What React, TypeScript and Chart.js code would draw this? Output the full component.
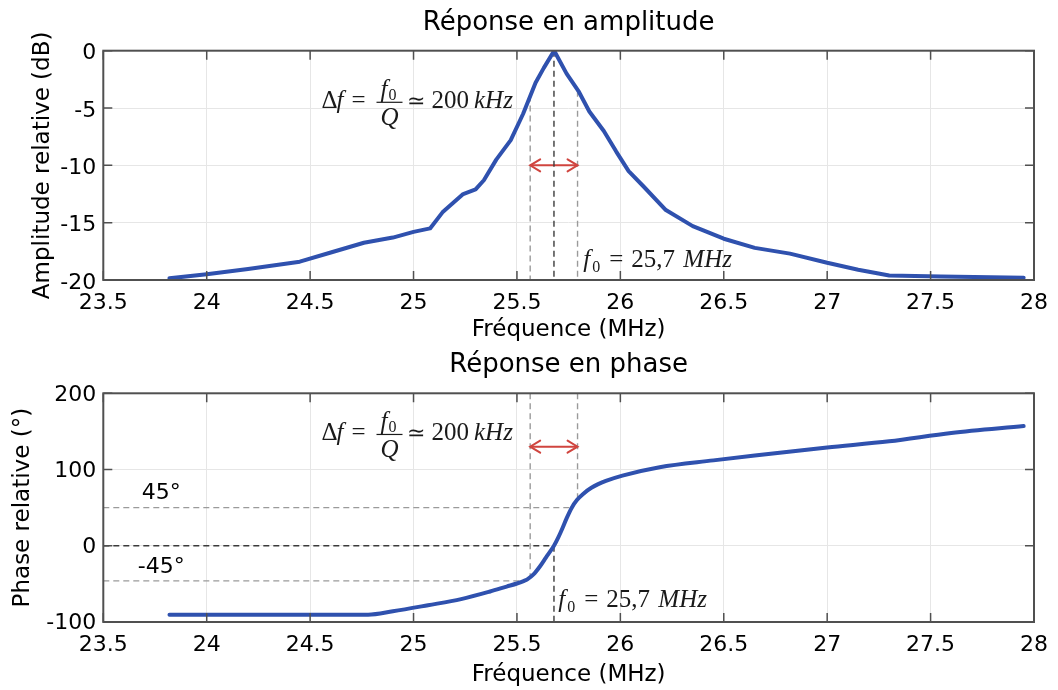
import React, { useEffect, useRef } from "react";
import { Chart, registerables } from "chart.js";

Chart.register(...registerables);

// ---------- data ----------
const freqAmp = [23.82, 24.0, 24.2, 24.45, 24.6, 24.76, 24.9, 25.0, 25.08, 25.14, 25.24, 25.3, 25.34, 25.4, 25.47, 25.53, 25.59, 25.63, 25.68, 25.74, 25.8, 25.85, 25.92, 25.98, 26.04, 26.11, 26.22, 26.35, 26.5, 26.65, 26.82, 27.0, 27.15, 27.3, 27.55, 27.95];
const ampDb = [-19.85, -19.5, -19.05, -18.4, -17.6, -16.75, -16.3, -15.8, -15.5, -14.1, -12.5, -12.1, -11.3, -9.5, -7.8, -5.5, -2.8, -1.5, 0, -2.0, -3.6, -5.3, -7.0, -8.8, -10.5, -11.8, -13.9, -15.3, -16.4, -17.2, -17.7, -18.5, -19.1, -19.6, -19.7, -19.8];

const freqPhase = [23.82, 24.3, 24.78, 24.9, 25.07, 25.23, 25.37, 25.45, 25.5, 25.535, 25.55, 25.58, 25.61, 25.64, 25.679, 25.7, 25.72, 25.74, 25.765, 25.79, 25.82, 25.86, 25.93, 26.01, 26.19, 26.45, 26.65, 27.0, 27.3, 27.6, 27.95];
const phaseDeg = [-90.5, -90.5, -90.5, -86, -78, -70, -60, -53.5, -49.5, -46, -44, -37.5, -27.5, -15.5, 0, 11, 23, 36, 50, 60, 68, 76, 85, 92, 103, 112, 118.5, 129, 137, 148, 157];

const xTickValues = [23.5, 24, 24.5, 25, 25.5, 26, 26.5, 27, 27.5, 28];
const ampTickValues = [-20, -15, -10, -5, 0];
const phaseTickValues = [-100, 0, 100, 200];

// markers (MHz / dB / degrees)
const fLow = 25.564;
const f0 = 25.679;
const fHigh = 25.793;
const ampAtLow = -3.9;
const ampAtHigh = -3.5;
const ampArrowLevel = -10;
const phaseAtLow = -41;
const phaseAtHigh = 61;
const phaseArrowLevel = 130;
const phasePlus45 = 50;
const phaseMinus45 = -46;
const phasePlus45End = 25.765;
const phaseMinus45End = 25.535;

// text anchors (data coordinates)
const ampDfAnchor = { x: 24.555, y: -4.5 };
const ampF0Anchor = { x: 25.821, y: -18.84 };
const phaseDfAnchor = { x: 24.555, y: 146 };
const phaseF0Anchor = { x: 25.7, y: -80.8 };
const plus45Anchor = { x: 23.78, y: 71.4 };
const minus45Anchor = { x: 23.78, y: -25.9 };

// ---------- styles ----------
const SANS = '"DejaVu Sans", sans-serif';
const SERIF = '"Liberation Serif", "Times New Roman", serif';
const CURVE = "#2f51ae";
const LIGHT_DASH = "#9a9a9a";
const DARK_DASH = "#3a3a3a";
const ARROW = "#d0453f";

function pairs(xs: number[], ys: number[]) {
  return xs.map((x, i) => ({ x, y: ys[i] }));
}

function seg(x1: number, y1: number, x2: number, y2: number, color: string, dash: number[]) {
  return {
    data: [{ x: x1, y: y1 }, { x: x2, y: y2 }],
    borderColor: color,
    borderWidth: 1.4,
    borderDash: dash,
    pointRadius: 0,
    tension: 0,
    order: 2,
  };
}

const framePlugin = {
  id: "matlabFrame",
  afterDraw(chart: any) {
    const { ctx, chartArea: a } = chart;
    const xs = chart.scales.x;
    const ys = chart.scales.y;
    ctx.save();
    ctx.strokeStyle = "#505050";
    ctx.lineWidth = 1.5;
    ctx.beginPath();
    for (const t of xs.ticks) {
      const px = xs.getPixelForValue(t.value);
      ctx.moveTo(px, a.bottom);
      ctx.lineTo(px, a.bottom - 9);
      ctx.moveTo(px, a.top);
      ctx.lineTo(px, a.top + 9);
    }
    for (const t of ys.ticks) {
      const py = ys.getPixelForValue(t.value);
      ctx.moveTo(a.left, py);
      ctx.lineTo(a.left + 9, py);
      ctx.moveTo(a.right, py);
      ctx.lineTo(a.right - 9, py);
    }
    ctx.stroke();
    ctx.lineWidth = 2;
    ctx.strokeRect(a.left, a.top, a.right - a.left, a.bottom - a.top);
    ctx.restore();
  },
};

function put(ctx: any, s: string, x: number, y: number, font: string, align: string = "left") {
  ctx.font = font;
  ctx.textAlign = align;
  ctx.textBaseline = "alphabetic";
  ctx.fillText(s, x, y);
  return ctx.measureText(s).width;
}

function drawDeltaF(ctx: any, x0: number, yBar: number) {
  const base = yBar + 6;
  const n = `25px ${SERIF}`;
  const it = `italic 25px ${SERIF}`;
  ctx.fillStyle = "#1a1a1a";
  put(ctx, "Δ", x0, base, n);
  put(ctx, "f", x0 + 15, base, it);
  put(ctx, "=", x0 + 30, base, n);
  put(ctx, "f", x0 + 59, yBar - 5, it);
  put(ctx, "0", x0 + 67, yBar - 2, `16px ${SERIF}`);
  ctx.strokeStyle = "#1a1a1a";
  ctx.lineWidth = 1.2;
  ctx.beginPath();
  ctx.moveTo(x0 + 55, yBar);
  ctx.lineTo(x0 + 81, yBar);
  ctx.stroke();
  put(ctx, "Q", x0 + 68, yBar + 23, it, "center");
  let cx = x0 + 86;
  cx += put(ctx, "≃", cx, base, `22px ${SERIF}`) + 6;
  cx += put(ctx, "200", cx, base, n) + 5;
  put(ctx, "kHz", cx, base, it);
}

function drawF0(ctx: any, x0: number, base: number) {
  const n = `25px ${SERIF}`;
  ctx.fillStyle = "#1a1a1a";
  put(ctx, "f", x0, base, `italic 25px ${SERIF}`);
  put(ctx, "0", x0 + 9, base + 5, `16px ${SERIF}`);
  put(ctx, "=", x0 + 26, base, n);
  put(ctx, "25,7", x0 + 48, base, n);
  put(ctx, "MHz", x0 + 100, base, `italic 25px ${SERIF}`);
}

function drawArrow(ctx: any, chart: any, index: number) {
  const meta = chart.getDatasetMeta(index);
  const p0 = meta.data[0];
  const p1 = meta.data[1];
  if (!p0 || !p1) return;
  ctx.save();
  ctx.strokeStyle = ARROW;
  ctx.lineWidth = 2;
  ctx.lineCap = "round";
  ctx.beginPath();
  ctx.moveTo(p0.x + 10, p0.y - 6);
  ctx.lineTo(p0.x, p0.y);
  ctx.lineTo(p0.x + 10, p0.y + 6);
  ctx.moveTo(p1.x - 10, p1.y - 6);
  ctx.lineTo(p1.x, p1.y);
  ctx.lineTo(p1.x - 10, p1.y + 6);
  ctx.stroke();
  ctx.restore();
}

function makeOptions(p: any) {
  const tickFont = { family: SANS, size: 22 };
  return {
    responsive: false,
    maintainAspectRatio: false,
    animation: false,
    events: [],
    layout: { padding: { left: 0, right: 17, top: 0, bottom: 0 } },
    plugins: {
      legend: { display: false },
      tooltip: { enabled: false },
      title: {
        display: true,
        text: p.title,
        fullSize: false,
        color: "#000",
        font: { family: SANS, size: 26, weight: "normal", lineHeight: 1.2 },
        padding: p.titlePad,
      },
    },
    scales: {
      x: {
        type: "linear",
        min: 23.5,
        max: 28,
        afterBuildTicks: (s: any) => {
          s.ticks = xTickValues.map((v) => ({ value: v }));
        },
        afterFit: (s: any) => {
          s.height = p.xAxisHeight;
        },
        grid: { color: "#e6e6e6", lineWidth: 1, drawTicks: false },
        border: { display: false },
        ticks: {
          color: "#000",
          font: tickFont,
          padding: 10,
          maxRotation: 0,
          autoSkip: false,
          callback: (v: any) => String(v),
        },
        title: {
          display: true,
          text: "Fréquence (MHz)",
          color: "#000",
          font: { family: SANS, size: 23, lineHeight: 1.2 },
          padding: { top: 0, bottom: 0.7 },
        },
      },
      y: {
        type: "linear",
        min: p.yMin,
        max: p.yMax,
        afterBuildTicks: (s: any) => {
          s.ticks = p.yTicks.map((v: number) => ({ value: v }));
        },
        afterFit: (s: any) => {
          s.width = 103.3;
        },
        grid: { color: "#e6e6e6", lineWidth: 1, drawTicks: false },
        border: { display: false },
        ticks: {
          color: "#000",
          font: tickFont,
          padding: 7,
          labelOffset: p.yLabelOffset,
          autoSkip: false,
          callback: (v: any) => String(v),
        },
        title: {
          display: true,
          text: p.yTitle,
          color: "#000",
          font: { family: SANS, size: 23, lineHeight: 1.2 },
          padding: { top: p.yTitlePad, bottom: 0 },
        },
      },
    },
  };
}

function curveDataset(xs: number[], ys: number[], smooth: boolean) {
  return {
    data: pairs(xs, ys),
    borderColor: CURVE,
    borderWidth: 4,
    pointRadius: 0,
    tension: smooth ? 0.4 : 0,
    cubicInterpolationMode: smooth ? "monotone" : "default",
    borderJoinStyle: "round",
    borderCapStyle: "round",
    order: 0,
  };
}

export default function App() {
  const topRef = useRef<HTMLCanvasElement | null>(null);
  const botRef = useRef<HTMLCanvasElement | null>(null);

  useEffect(() => {
    if (!topRef.current || !botRef.current) return;

    const ampArrowIdx = 4;
    const ampNotes = {
      id: "ampNotes",
      afterDatasetsDraw(chart: any) {
        const { ctx } = chart;
        const xs = chart.scales.x;
        const ys = chart.scales.y;
        drawArrow(ctx, chart, ampArrowIdx);
        ctx.save();
        drawDeltaF(ctx, xs.getPixelForValue(ampDfAnchor.x), ys.getPixelForValue(ampDfAnchor.y));
        drawF0(ctx, xs.getPixelForValue(ampF0Anchor.x), ys.getPixelForValue(ampF0Anchor.y));
        ctx.restore();
      },
    };

    const top = new Chart(topRef.current, {
      type: "line",
      data: {
        datasets: [
          curveDataset(freqAmp, ampDb, false),
          seg(fLow, ampAtLow, fLow, -20, LIGHT_DASH, [6, 4]),
          seg(fHigh, ampAtHigh, fHigh, -20, LIGHT_DASH, [6, 4]),
          seg(f0, 0, f0, -20, DARK_DASH, [6, 4]),
          { ...seg(fLow, ampArrowLevel, fHigh, ampArrowLevel, ARROW, []), borderWidth: 2 },
        ] as any,
      },
      options: makeOptions({
        title: "Réponse en amplitude",
        titlePad: { top: 7.2, bottom: 12.3 },
        yTitle: "Amplitude relative (dB)",
        yTitlePad: 29.2,
        yMin: -20,
        yMax: 0,
        yTicks: ampTickValues,
        yLabelOffset: 3,
        xAxisHeight: 65,
      }) as any,
      plugins: [framePlugin, ampNotes] as any,
    });

    const phaseArrowIdx = 7;
    const phaseNotes = {
      id: "phaseNotes",
      afterDatasetsDraw(chart: any) {
        const { ctx } = chart;
        const xs = chart.scales.x;
        const ys = chart.scales.y;
        drawArrow(ctx, chart, phaseArrowIdx);
        ctx.save();
        drawDeltaF(ctx, xs.getPixelForValue(phaseDfAnchor.x), ys.getPixelForValue(phaseDfAnchor.y));
        drawF0(ctx, xs.getPixelForValue(phaseF0Anchor.x), ys.getPixelForValue(phaseF0Anchor.y));
        ctx.fillStyle = "#000";
        ctx.font = `22px ${SANS}`;
        ctx.textAlign = "center";
        ctx.textBaseline = "middle";
        ctx.fillText("45°", xs.getPixelForValue(plus45Anchor.x), ys.getPixelForValue(plus45Anchor.y) + 1.5);
        ctx.fillText("-45°", xs.getPixelForValue(minus45Anchor.x), ys.getPixelForValue(minus45Anchor.y) + 1.5);
        ctx.restore();
      },
    };

    const bot = new Chart(botRef.current, {
      type: "line",
      data: {
        datasets: [
          curveDataset(freqPhase, phaseDeg, true),
          seg(fLow, 200, fLow, phaseAtLow, LIGHT_DASH, [6, 4]),
          seg(fHigh, 200, fHigh, phaseAtHigh, LIGHT_DASH, [6, 4]),
          seg(23.5, phasePlus45, phasePlus45End, phasePlus45, LIGHT_DASH, [6, 4]),
          seg(23.5, phaseMinus45, phaseMinus45End, phaseMinus45, LIGHT_DASH, [6, 4]),
          seg(23.5, 0, f0, 0, DARK_DASH, [6, 4]),
          seg(f0, 0, f0, -100, DARK_DASH, [6, 4]),
          { ...seg(fLow, phaseArrowLevel, fHigh, phaseArrowLevel, ARROW, []), borderWidth: 2 },
        ] as any,
      },
      options: makeOptions({
        title: "Réponse en phase",
        titlePad: { top: 4.2, bottom: 12.9 },
        yTitle: "Phase relative (°)",
        yTitlePad: 9.7,
        yMin: -100,
        yMax: 200,
        yTicks: phaseTickValues,
        yLabelOffset: 1.5,
        xAxisHeight: 68,
      }) as any,
      plugins: [framePlugin, phaseNotes] as any,
    });

    return () => {
      top.destroy();
      bot.destroy();
    };
  }, []);

  return (
    <div style={{ position: "absolute", left: 0, top: 0, width: 1058, height: 690, background: "#fff" }}>
      <canvas ref={topRef} width={1058} height={345} style={{ display: "block", width: 1058, height: 345 }} />
      <canvas ref={botRef} width={1058} height={345} style={{ display: "block", width: 1058, height: 345 }} />
    </div>
  );
}
